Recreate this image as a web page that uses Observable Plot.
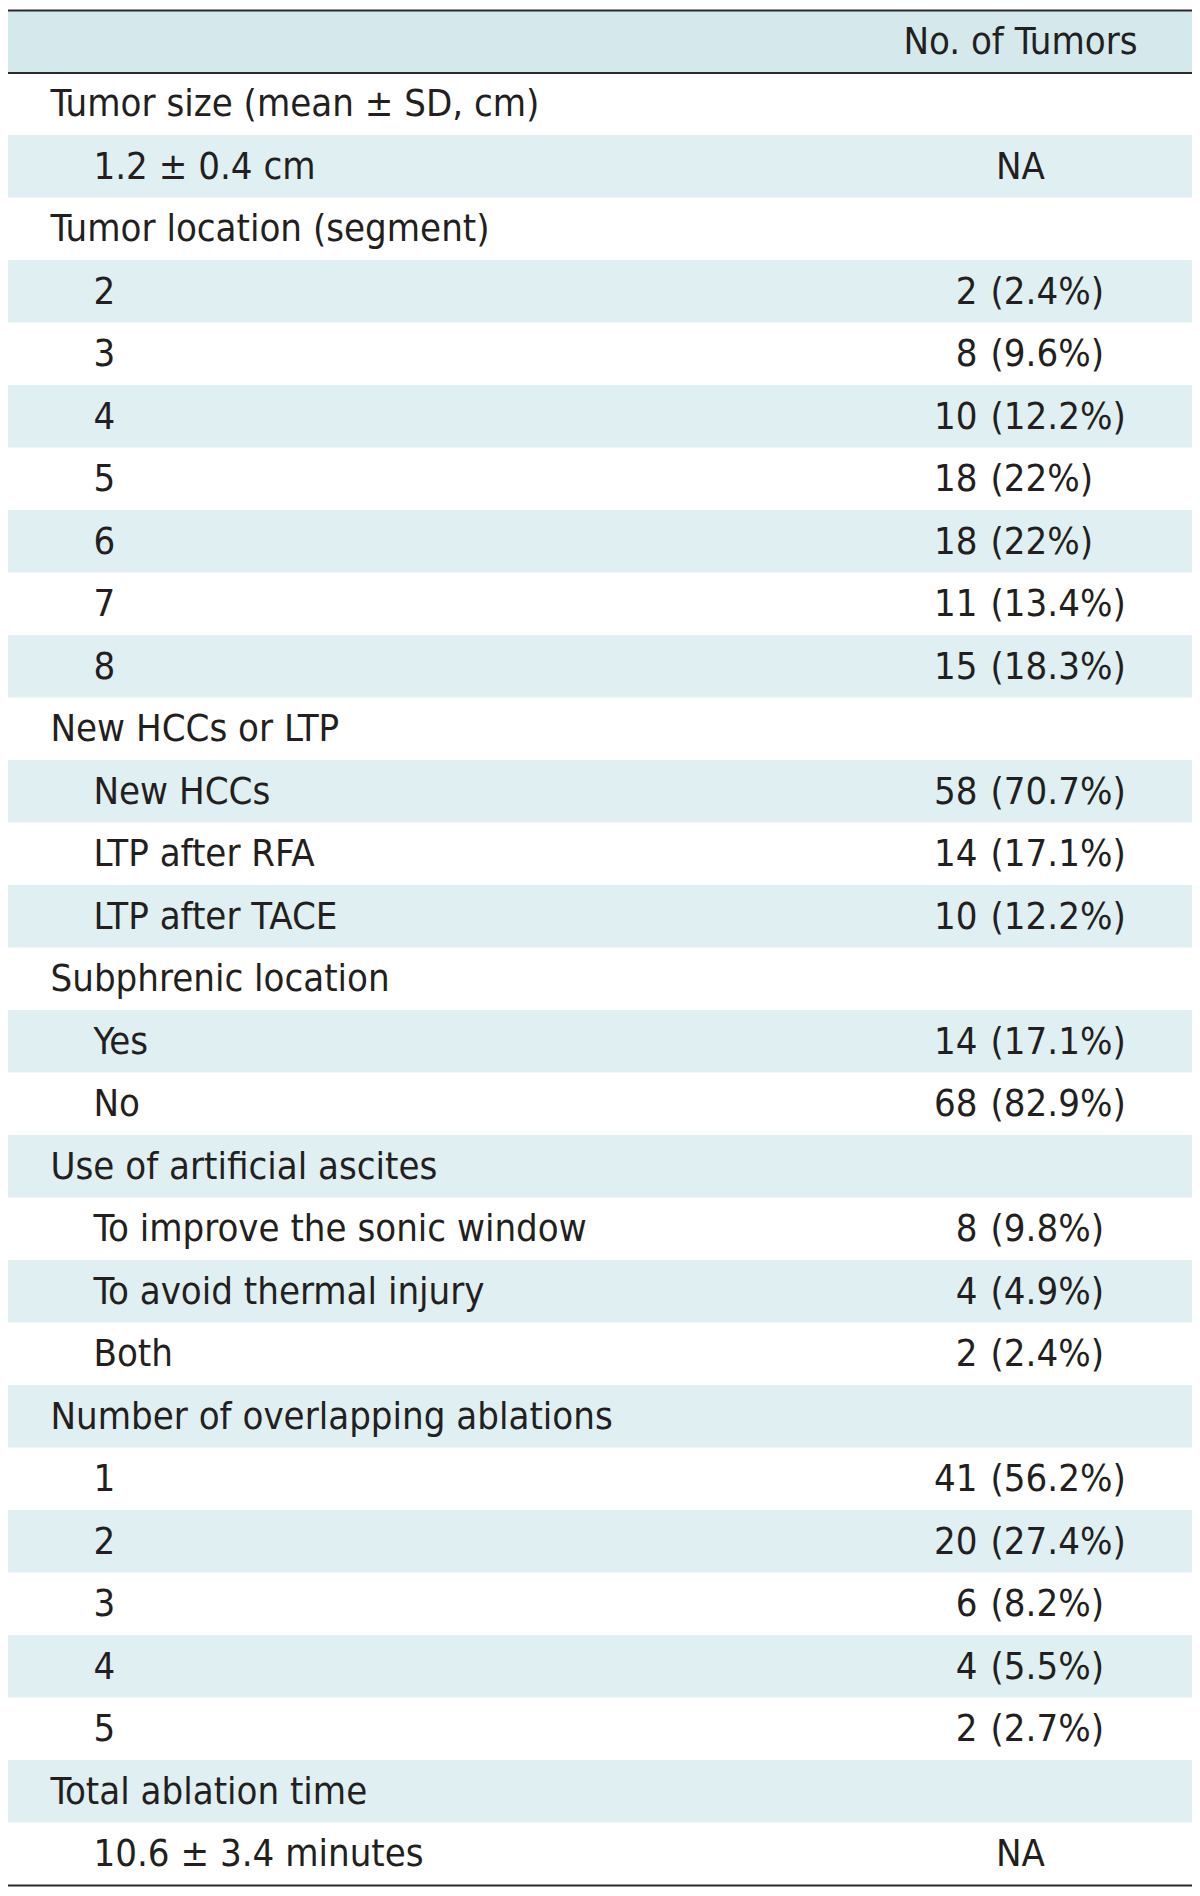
<!DOCTYPE html>
<html><head><meta charset="utf-8">
<script src="https://cdn.jsdelivr.net/npm/d3@7"></script>
<script src="https://cdn.jsdelivr.net/npm/@observablehq/plot@0.6"></script>
<style>html,body{margin:0;padding:0;background:#fff}</style>
</head><body><div id="chart"></div>
<script>
const header = "No. of Tumors";
const labels = [
  "Tumor size (mean ± SD, cm)", "1.2 ± 0.4 cm",
  "Tumor location (segment)", "2", "3", "4", "5", "6", "7", "8",
  "New HCCs or LTP", "New HCCs", "LTP after RFA", "LTP after TACE",
  "Subphrenic location", "Yes", "No",
  "Use of artificial ascites", "To improve the sonic window", "To avoid thermal injury", "Both",
  "Number of overlapping ablations", "1", "2", "3", "4", "5",
  "Total ablation time", "10.6 ± 3.4 minutes"
];
const levels = [0,1, 0,1,1,1,1,1,1,1, 0,1,1,1, 0,1,1, 0,1,1,1, 0,1,1,1,1,1, 0,1];
const counts = ["","NA", "","2","8","10","18","18","11","15", "","58","14","10", "","14","68", "","8","4","2", "","41","20","6","4","2", "","NA"];
const percents = ["","", "","(2.4%)","(9.6%)","(12.2%)","(22%)","(22%)","(13.4%)","(18.3%)", "","(70.7%)","(17.1%)","(12.2%)", "","(17.1%)","(82.9%)", "","(9.8%)","(4.9%)","(2.4%)", "","(56.2%)","(27.4%)","(8.2%)","(5.5%)","(2.7%)", "",""];

const rows = labels.map((label, k) => ({i: k + 1, label, level: levels[k], count: counts[k], pct: percents[k]}));
const nRows = rows.length + 1;

// layout
const W = 1200, H = 1896;
const tableLeft = 8, tableRight = 1192;
const xCat = 50, xSub = 93, xCountEnd = 977, xPctStart = 990, xCenter = 1020;
const fs = 38;
const font = "'DejaVu Sans Condensed', 'Liberation Sans Narrow', 'DejaVu Sans', sans-serif";
const ink = "#231f20";

const shaded = [{i: 0}, ...rows.filter(d => d.i % 2 === 0)];

const chart = Plot.plot({
  width: W, height: H,
  marginTop: 10, marginBottom: 11, marginLeft: 0, marginRight: 0,
  x: {domain: [0, W], axis: null},
  y: {domain: [nRows, 0], axis: null},
  style: {fontFamily: font, background: "#fff"},
  marks: [
    Plot.rect(shaded.filter(d => d.i === 0), {x1: tableLeft, x2: tableRight, y1: d => d.i, y2: d => d.i + 1, fill: "#d5e8ec"}),
    Plot.rect(shaded.filter(d => d.i > 0), {x1: tableLeft, x2: tableRight, y1: d => d.i, y2: d => d.i + 1, fill: "#e0eff2"}),
    Plot.ruleY([0, 1, nRows], {x1: tableLeft, x2: tableRight, stroke: "#2b2b2b", strokeWidth: 2.2}),
    Plot.text([header], {x: xCenter, y: 0.5, text: d => d, textAnchor: "middle", fontSize: fs, fill: ink}),
    Plot.text(rows, {x: d => d.level ? xSub : xCat, y: d => d.i + 0.5, text: "label", textAnchor: "start", fontSize: fs, fill: ink}),
    Plot.text(rows.filter(d => d.count && d.pct), {x: xCountEnd, y: d => d.i + 0.5, text: "count", textAnchor: "end", fontSize: fs, fill: ink}),
    Plot.text(rows.filter(d => d.pct), {x: xPctStart, y: d => d.i + 0.5, text: "pct", textAnchor: "start", fontSize: fs, fill: ink}),
    Plot.text(rows.filter(d => d.count && !d.pct), {x: xCenter, y: d => d.i + 0.5, text: "count", textAnchor: "middle", fontSize: fs, fill: ink})
  ]
});
document.getElementById("chart").appendChild(chart);
</script>
</body></html>
